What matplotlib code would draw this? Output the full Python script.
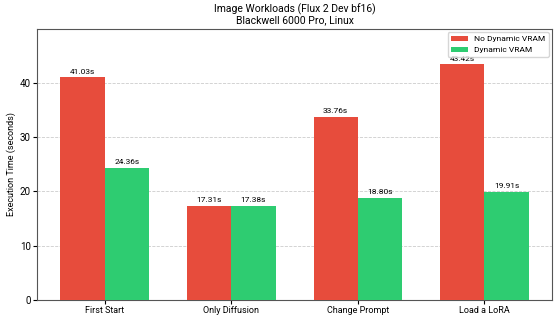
import matplotlib.pyplot as plt
import numpy as np

plt.rcParams['font.family'] = ['Roboto', 'DejaVu Sans']

categories = ["First Start", "Only Diffusion", "Change Prompt", "Load a LoRA"]
no_dynamic = [41.03, 17.31, 33.76, 43.42]
dynamic = [24.36, 17.38, 18.80, 19.91]

x = np.arange(len(categories))
width = 0.35

fig, ax = plt.subplots(figsize=(5.6, 3.15), dpi=100)
b1 = ax.bar(x - width / 2, no_dynamic, width, color='#e74c3c', label='No Dynamic VRAM', zorder=3)
b2 = ax.bar(x + width / 2, dynamic, width, color='#2ecc71', label='Dynamic VRAM', zorder=3)

# value labels above each bar
for bars in (b1, b2):
    for b in bars:
        h = b.get_height()
        ax.text(b.get_x() + b.get_width() / 2, h + 0.5, f"{h:.2f}s",
                ha='center', va='bottom', fontsize=6)

ax.set_xticks(x)
ax.set_xticklabels(categories)
ax.tick_params(axis='x', labelsize=6.5, length=3, pad=1.5)
ax.tick_params(axis='y', labelsize=7, length=3, pad=1.5)
for s in ax.spines.values():
    s.set_color('#555555')
    s.set_linewidth(0.8)
ax.set_ylabel("Execution Time (seconds)", fontsize=6.5, labelpad=3)
ax.set_title("Image Workloads (Flux 2 Dev bf16)\nBlackwell 6000 Pro, Linux", fontsize=7.5, linespacing=1.05, pad=4)
ax.set_ylim(0, max(no_dynamic) * 1.15)
ax.yaxis.grid(True, linestyle='--', color='#cccccc', linewidth=0.6, zorder=0)
ax.legend(loc='upper right', fontsize=6, borderaxespad=0.4)

fig.subplots_adjust(left=0.066, right=0.986, top=0.908, bottom=0.048)
fig.savefig("out.png", dpi=100)
